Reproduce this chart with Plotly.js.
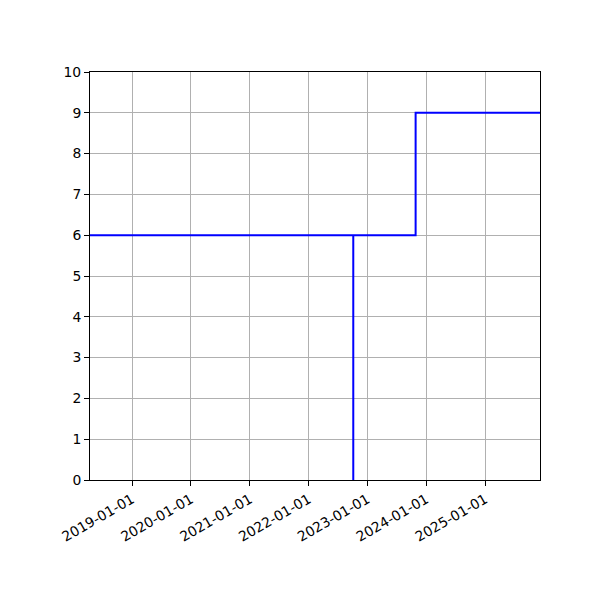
<!DOCTYPE html>
<html>
<head>
<meta charset="utf-8">
<script src="https://cdn.plot.ly/plotly-3.0.1.min.js"></script>
<style>
  html, body { margin: 0; padding: 0; background: white; }
  #chart { width: 600px; height: 600px; }
</style>
</head>
<body>
<div id="chart"></div>
<script>
  // Step series: drops to 0 and back up on the same day, later rises to 9.
  const dates = ["2018-04-15", "2022-10-05", "2022-10-05", "2023-10-27", "2025-12-07"];
  const values = [6, 0, 6, 9, 9];
  const tickDates = ["2019-01-01", "2020-01-01", "2021-01-01", "2022-01-01", "2023-01-01", "2024-01-01", "2025-01-01"];
  const yTicks = [0, 1, 2, 3, 4, 5, 6, 7, 8, 9, 10];

  const FONT = "DejaVu Sans, sans-serif";

  Plotly.newPlot(
    "chart",
    [{
      type: "scatter",
      mode: "lines",
      x: dates,
      y: values,
      line: { shape: "hv", color: "#0000ff", width: 2 },
      hoverinfo: "skip",
    }],
    {
      width: 600,
      height: 600,
      margin: { l: 90, r: 60, t: 72, b: 120 },
      showlegend: false,
      plot_bgcolor: "white",
      paper_bgcolor: "white",
      font: { family: FONT, size: 13.9, color: "#000" },
      xaxis: {
        type: "date",
        range: ["2018-04-15", "2025-12-07"],
        tickmode: "array",
        tickvals: tickDates,
        ticktext: tickDates,
        tickangle: -30,
        ticks: "outside",
        ticklen: 5,
        tickcolor: "#000",
        showgrid: true,
        gridcolor: "#b0b0b0",
        gridwidth: 1,
        showline: true,
        linecolor: "#000",
        linewidth: 1,
        mirror: true,
        zeroline: false,
        fixedrange: true,
      },
      yaxis: {
        range: [0, 10],
        tickmode: "array",
        tickvals: yTicks,
        ticks: "outside",
        ticklen: 5,
        tickcolor: "#000",
        showgrid: true,
        gridcolor: "#b0b0b0",
        gridwidth: 1,
        showline: true,
        linecolor: "#000",
        linewidth: 1,
        mirror: true,
        zeroline: false,
        fixedrange: true,
      },
    },
    { displayModeBar: false, staticPlot: true },
  );
</script>
</body>
</html>
